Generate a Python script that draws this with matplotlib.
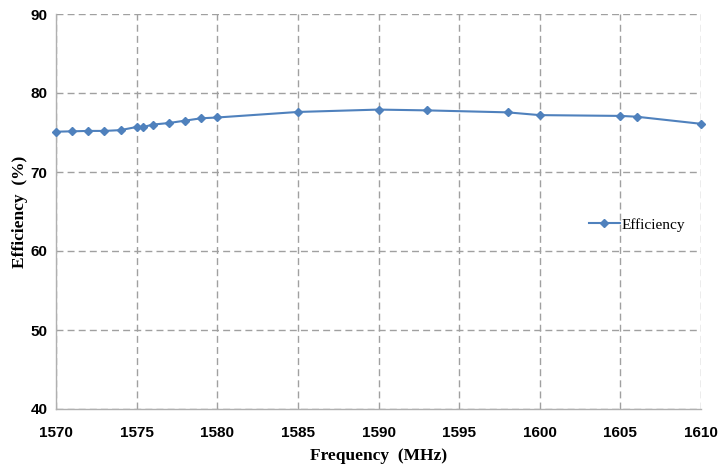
import matplotlib.pyplot as plt

# Efficiency vs frequency
freq_mhz = [1570, 1571, 1572, 1573, 1574, 1575, 1575.42, 1576, 1577, 1578, 1579, 1580,
            1585, 1590, 1593, 1598, 1600, 1605, 1606, 1610]
efficiency = [75.1, 75.15, 75.2, 75.2, 75.3, 75.7, 75.7, 76.0, 76.2, 76.5, 76.8, 76.9,
              77.6, 77.9, 77.8, 77.55, 77.2, 77.1, 77.0, 76.1]

x_ticks = list(range(1570, 1611, 5))
y_ticks = list(range(40, 91, 10))

fig = plt.figure(figsize=(7.2, 4.68), dpi=100)
ax = fig.add_axes([56 / 720, 1 - 409 / 468, (701 - 56) / 720, (409 - 14) / 468])

ax.plot(freq_mhz, efficiency, color='#4f81bd', lw=1.5, marker='D', ms=4.5,
        label='Efficiency', zorder=3, clip_on=False)

ax.set_xlim(1570, 1610)
ax.set_ylim(40, 90)
ax.set_xticks(x_ticks)
ax.set_yticks(y_ticks)
ax.grid(True, color='#a0a0a0', ls=(0, (5, 3)), lw=1)

for side in ('top', 'right'):
    ax.spines[side].set_visible(False)
for side in ('left', 'bottom'):
    ax.spines[side].set_color('#b0b0b0')
    ax.spines[side].set_linewidth(1)

ax.tick_params(length=0, labelsize=11, pad=6)
for lbl in ax.get_xticklabels() + ax.get_yticklabels():
    lbl.set_fontfamily('Liberation Sans')
    lbl.set_fontweight('bold')
ax.tick_params(axis='x', pad=12)

ax.set_xlabel('Frequency  (MHz)', fontfamily='Liberation Serif', fontweight='bold',
              fontsize=12.5, labelpad=6)
ax.set_ylabel('Efficiency  (%)', fontfamily='Liberation Serif', fontweight='bold',
              fontsize=12.5, labelpad=2)

ax.legend(loc='center left', bbox_to_anchor=(0.805, 0.466), frameon=False,
          prop={'family': 'Liberation Serif', 'size': 11}, handlelength=2.0,
          handletextpad=0.1)

fig.savefig('out.png', dpi=100)
